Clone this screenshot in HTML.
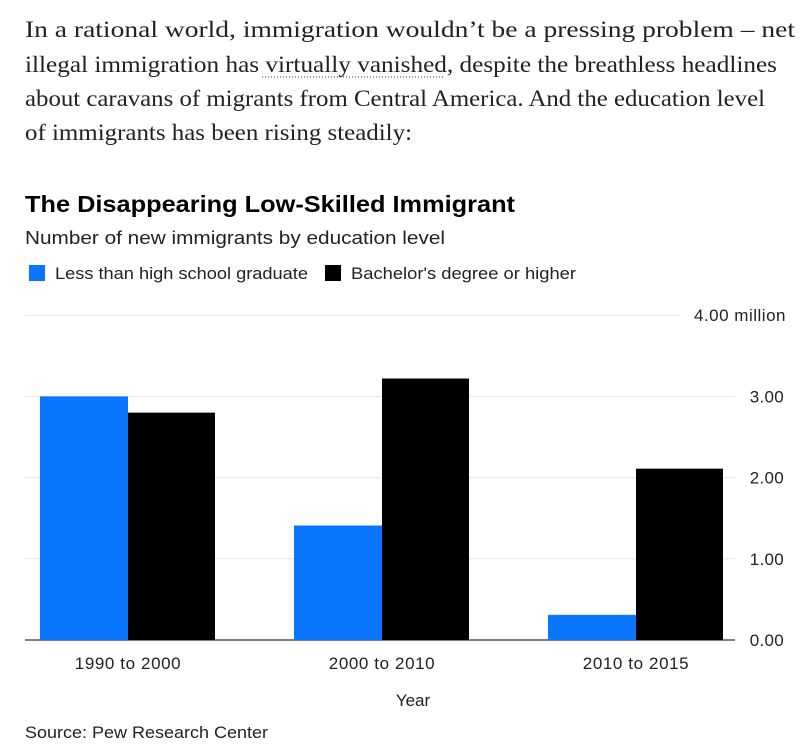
<!DOCTYPE html>
<html><head><meta charset="utf-8"><style>
body{margin:0;width:812px;height:756px;background:#fff;overflow:hidden;position:relative;font-family:"Liberation Sans",sans-serif;}
</style></head><body>
<svg width="812" height="756" style="position:absolute;left:0;top:0" id="chart">
<g font-family="Liberation Serif, serif" font-size="23" fill="#222">
<text x="25" y="37" textLength="770" lengthAdjust="spacingAndGlyphs">In a rational world, immigration wouldn’t be a pressing problem – net</text>
<text x="25" y="72" textLength="752" lengthAdjust="spacingAndGlyphs">illegal immigration has virtually vanished, despite the breathless headlines</text>
<text x="25" y="106" textLength="740" lengthAdjust="spacingAndGlyphs">about caravans of migrants from Central America. And the education level</text>
<text x="25" y="140" textLength="387" lengthAdjust="spacingAndGlyphs">of immigrants has been rising steadily:</text>
</g>
<line x1="262" x2="443" y1="77" y2="77" stroke="#333" stroke-dasharray="1,2"/>
<text x="25" y="212" font-size="23" font-weight="bold" fill="#000" textLength="490" lengthAdjust="spacingAndGlyphs">The Disappearing Low-Skilled Immigrant</text>
<text x="25" y="244" font-size="18" fill="#222" textLength="420" lengthAdjust="spacingAndGlyphs">Number of new immigrants by education level</text>
<g>
<rect x="29" y="265" width="16" height="16" fill="#0a75ff"/>
<text x="55" y="279" font-size="17" fill="#222" textLength="253" lengthAdjust="spacingAndGlyphs">Less than high school graduate</text>
<rect x="325" y="265" width="16" height="16" fill="#000"/>
<text x="351" y="279" font-size="17" fill="#222" textLength="225" lengthAdjust="spacingAndGlyphs">Bachelor's degree or higher</text>
</g>
<g id="grid"></g><g id="bars"></g><g id="labels"></g>
<text x="413" y="706" font-size="17" fill="#222" text-anchor="middle">Year</text>
<text x="25" y="738" font-size="17" fill="#222" textLength="243" lengthAdjust="spacingAndGlyphs">Source: Pew Research Center</text>
</svg>
<script>
const categories=["1990 to 2000","2000 to 2010","2010 to 2015"];
const lessThanHS=[3.0,1.41,0.31];
const bachelors=[2.8,3.22,2.11];
const ticks=[0,1,2,3,4];
const tickLabels=["0.00","1.00","2.00","3.00","4.00 million"];
const NS="http://www.w3.org/2000/svg";
const y=v=>640-v*81.2;
const groupX=i=>40+i*254;
function mk(t,a,p){const e=document.createElementNS(NS,t);for(const k in a)e.setAttribute(k,a[k]);p.appendChild(e);return e;}
const grid=document.getElementById('grid'),bars=document.getElementById('bars'),labels=document.getElementById('labels');
ticks.forEach((t,i)=>{
 const top=i===ticks.length-1;
 const g=mk('line',{x1:25,x2:top?680:735,y1:y(t),y2:y(t),stroke:t===0?'#000':'#e6e6e6','stroke-width':1},grid);
 
 
 const tx=mk('text',{x:top?786:784,y:y(t)+6,'font-size':17,fill:'#222','text-anchor':'end','letter-spacing':top?'0.5':'0.3'},labels);
 tx.textContent=tickLabels[i];
 
 
});
categories.forEach((c,i)=>{
 const x=groupX(i);
 const b1=mk('rect',{x:x,y:y(lessThanHS[i]),width:88,height:640-y(lessThanHS[i]),fill:'#0a75ff'},bars);
 
 
 const b2=mk('rect',{x:x+88,y:y(bachelors[i]),width:87,height:640-y(bachelors[i]),fill:'#000'},bars);
 
 
 const t=mk('text',{x:x+88,y:669,'font-size':17,fill:'#222','text-anchor':'middle','letter-spacing':'0.6'},labels);
 t.textContent=c;
 
 
});
</script>
</body></html>
